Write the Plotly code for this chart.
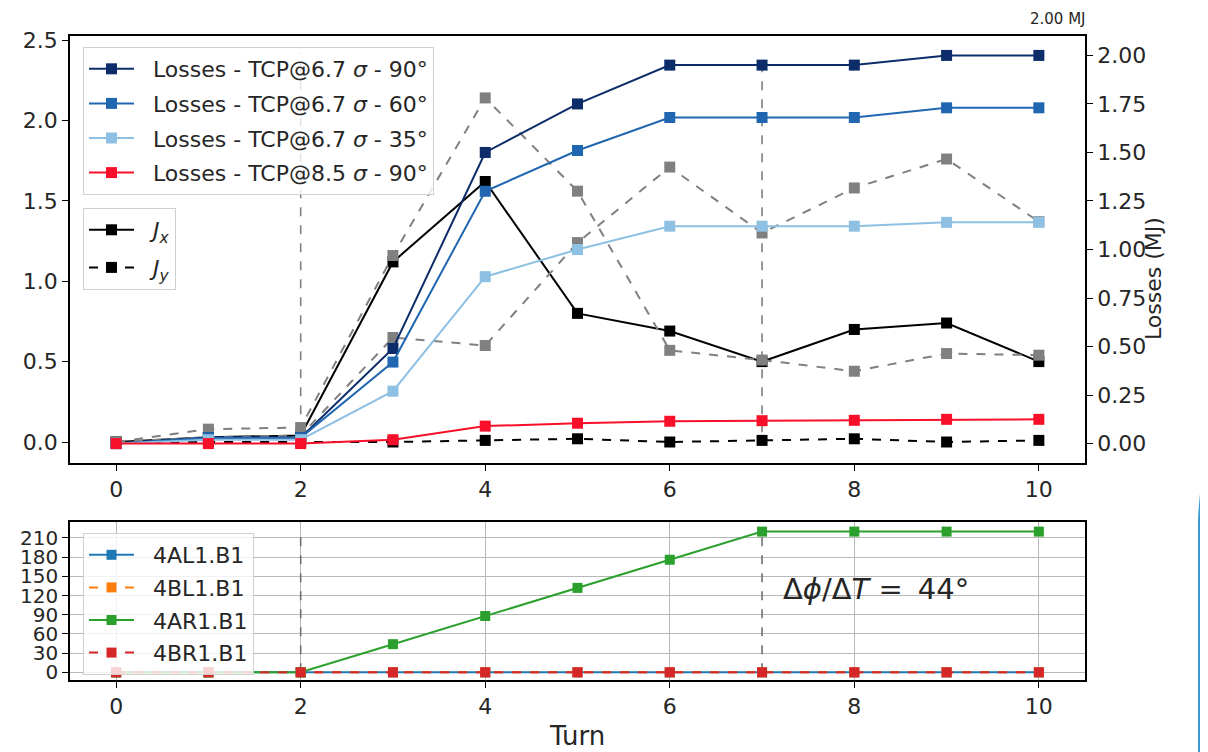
import plotly.graph_objects as go

turns = list(range(11))

# Losses (MJ) - right axis
loss_67_90 = [0.0, 0.03, 0.03, 0.49, 1.50, 1.75, 1.95, 1.95, 1.95, 2.00, 2.00]
loss_67_60 = [0.0, 0.03, 0.03, 0.42, 1.30, 1.51, 1.68, 1.68, 1.68, 1.73, 1.73]
loss_67_35 = [0.0, 0.02, 0.02, 0.27, 0.86, 1.00, 1.12, 1.12, 1.12, 1.14, 1.14]
loss_85_90 = [0.0, 0.0, 0.0, 0.02, 0.09, 0.105, 0.115, 0.118, 0.12, 0.125, 0.125]

# J values - left axis
jx = [0.0, 0.03, 0.04, 1.12, 1.62, 0.80, 0.69, 0.50, 0.70, 0.74, 0.50]
jy = [0.0, 0.0, 0.0, 0.0, 0.01, 0.02, 0.0, 0.01, 0.02, 0.0, 0.01]
gray_a = [0.0, 0.08, 0.09, 1.16, 2.14, 1.56, 0.57, 0.51, 0.44, 0.55, 0.54]
gray_b = [0.0, 0.03, 0.04, 0.65, 0.60, 1.24, 1.71, 1.30, 1.58, 1.76, 1.37]

# Phase per turn (deg) - bottom panel
ph_4AL1 = [0] * 11
ph_4BL1 = [0] * 11
ph_4AR1 = [0, 0, 0, 44, 88, 132, 176, 220, 220, 220, 220]
ph_4BR1 = [0] * 11

# vertical marker lines
vline_turns = [2, 7]
vline_top_J = [2.42, 2.34]
vline_top_phase = [220, 220]

FONT = "DejaVu Sans"
TXT = "#262626"
PAD = "\u00a0\u00a0"
fig = go.Figure()

def add_line(x, y, name, color, dash, xa, ya, legend, show=True, msize=11, width=2, group=None):
    fig.add_trace(go.Scatter(
        x=x, y=y, name=name, mode="lines+markers",
        line=dict(color=color, width=width, dash=dash),
        marker=dict(symbol="square", size=msize, color=color),
        xaxis=xa, yaxis=ya, legend=legend, showlegend=show,
        legendgroup=group if group else name))

# J traces (left axis)
add_line(turns, jx, PAD + "<i>J</i><sub><i>x</i></sub>", "black", "solid", "x", "y", "legend2", group="jx")
add_line(turns, jy, PAD + "<i>J</i><sub><i>y</i></sub>", "black", "dash", "x", "y", "legend2", group="jy")
add_line(turns, gray_a, "gray_a", "#808080", "dash", "x", "y", "legend2", show=False, group="ga")
add_line(turns, gray_b, "gray_b", "#808080", "dash", "x", "y", "legend2", show=False, group="gb")

for t, top in zip(vline_turns, vline_top_J):
    fig.add_trace(go.Scatter(x=[t, t], y=[0.06, top], mode="lines",
                             line=dict(color="#808080", width=1.6, dash="dash"),
                             xaxis="x", yaxis="y", showlegend=False, hoverinfo="skip"))

# Losses (right axis)
add_line(turns, loss_67_90, PAD + "Losses - TCP@6.7 <i>σ</i> - 90°", "#0c2c6a", "solid", "x", "y2", "legend", group="l1")
add_line(turns, loss_67_60, PAD + "Losses - TCP@6.7 <i>σ</i> - 60°", "#2166b0", "solid", "x", "y2", "legend", group="l2")
add_line(turns, loss_67_35, PAD + "Losses - TCP@6.7 <i>σ</i> - 35°", "#8dc0e2", "solid", "x", "y2", "legend", group="l3")
add_line(turns, loss_85_90, PAD + "Losses - TCP@8.5 <i>σ</i> - 90°", "#f8102a", "solid", "x", "y2", "legend", group="l4")

# bottom panel
for t, top in zip(vline_turns, vline_top_phase):
    fig.add_trace(go.Scatter(x=[t, t], y=[0, top], mode="lines",
                             line=dict(color="#707070", width=1.6, dash="dash"),
                             xaxis="x2", yaxis="y3", showlegend=False, hoverinfo="skip"))
add_line(turns, ph_4AL1, PAD + "4AL1.B1", "#1f77b4", "solid", "x2", "y3", "legend3", msize=10, group="p1")
add_line(turns, ph_4BL1, PAD + "4BL1.B1", "#ff7f0e", "dash", "x2", "y3", "legend3", msize=10, group="p2")
add_line(turns, ph_4AR1, PAD + "4AR1.B1", "#2ca02c", "solid", "x2", "y3", "legend3", msize=10, group="p3")
add_line(turns, ph_4BR1, PAD + "4BR1.B1", "#d62728", "dash", "x2", "y3", "legend3", msize=10, group="p4")

# The page is drawn with an 8px body offset, so the figure is 1200x744 and
# reference pixel coords (X, Y) map to figure pixels (X-8, Y-8).
OFF = 8
W, H = 1208 - OFF, 752 - OFF
L, R, T, B = 70, 1085, 36, 680  # plot area in reference pixels
def px(x):
    return (x - L) / (R - L)
def py(y):
    return (B - y) / (B - T)

TICKFONT = dict(family=FONT, size=22, color=TXT)
axis_common = dict(showline=True, linecolor="black", linewidth=1.5, mirror=True,
                   ticks="outside", ticklen=6, tickwidth=1.2, tickcolor="black",
                   zeroline=False, automargin=False)

legend_common = dict(bgcolor="rgba(255,255,255,0.8)", bordercolor="#d0d0d0", borderwidth=1,
                     font=dict(family=FONT, size=22, color=TXT),
                     xanchor="left", yanchor="top", itemwidth=45)

fig.update_layout(
    width=W, height=H,
    margin=dict(l=L - OFF, r=W - (R - OFF), t=T - OFF, b=H - (B - OFF), autoexpand=False),
    paper_bgcolor="white", plot_bgcolor="white",
    font=dict(family=FONT, color=TXT),
    xaxis=dict(domain=[0, 1], range=[-0.5, 10.5], tickvals=[0, 2, 4, 6, 8, 10],
               anchor="y", showgrid=False, tickfont=TICKFONT, **axis_common),
    yaxis=dict(domain=[py(463), 1], range=[-0.1306, 2.525], tickvals=[0, 0.5, 1, 1.5, 2, 2.5],
               tickformat=".1f", anchor="x", showgrid=False, tickfont=TICKFONT, **axis_common),
    yaxis2=dict(overlaying="y", side="right", range=[-0.1, 2.1],
                tickvals=[0, 0.25, 0.5, 0.75, 1, 1.25, 1.5, 1.75, 2.0], tickformat=".2f",
                anchor="x", showgrid=False, showline=True, linecolor="black", linewidth=1.5,
                ticks="outside", ticklen=6, tickwidth=1.2, tickcolor="black",
                tickfont=TICKFONT, zeroline=False, automargin=False),
    xaxis2=dict(domain=[0, 1], range=[-0.5, 10.5], tickvals=[0, 2, 4, 6, 8, 10],
                anchor="y3", showgrid=True, gridcolor="#b8b8b8", gridwidth=1,
                tickfont=TICKFONT, **axis_common),
    yaxis3=dict(domain=[0, py(522)], range=[-12, 235], tickvals=list(range(0, 211, 30)),
                anchor="x2", showgrid=True, gridcolor="#b8b8b8", gridwidth=1,
                tickfont=dict(family=FONT, size=20, color=TXT), **axis_common),
    legend=dict(x=px(83), y=py(47), tracegroupgap=3, **legend_common),
    legend2=dict(x=px(83), y=py(208), tracegroupgap=6, **legend_common),
    legend3=dict(x=px(83), y=py(533), tracegroupgap=1, **legend_common),
    showlegend=True,
)

fig.add_annotation(text="2.00 MJ", xref="paper", yref="paper", x=px(1088), y=py(19),
                   xanchor="right", yanchor="middle", showarrow=False,
                   font=dict(family=FONT, size=15, color=TXT))
fig.add_annotation(text="Losses (MJ)", xref="paper", yref="paper", x=px(1153), y=py(279),
                   textangle=-90, xanchor="center", yanchor="middle", showarrow=False,
                   font=dict(family=FONT, size=22, color=TXT))
fig.add_annotation(text="Turn", xref="paper", yref="paper", x=px(577), y=py(736),
                   xanchor="center", yanchor="middle", showarrow=False,
                   font=dict(family=FONT, size=26, color=TXT))
fig.add_annotation(text="Δ<i>ϕ</i>/Δ<i>T</i>\u00a0=\u00a0\u200944°", xref="x2", yref="y3",
                   x=7.2, y=130, xanchor="left", yanchor="middle", showarrow=False,
                   font=dict(family=FONT, size=29, color=TXT))

# slide decoration on the right edge
path = "M {x0},{y0} L {x0},{y1} Q {xq},{yq} {x2},{y2} L {x3},{y2} L {x3},{y0} Z".format(
    x0=px(1198), y0=py(753), y1=py(520), xq=px(1200), yq=py(480),
    x2=px(1206), y2=py(463), x3=px(1210))
fig.add_shape(type="path", path=path, xref="paper", yref="paper",
              fillcolor="#3a9ad0", line=dict(width=0), layer="above")

fig.write_html("out.html")
